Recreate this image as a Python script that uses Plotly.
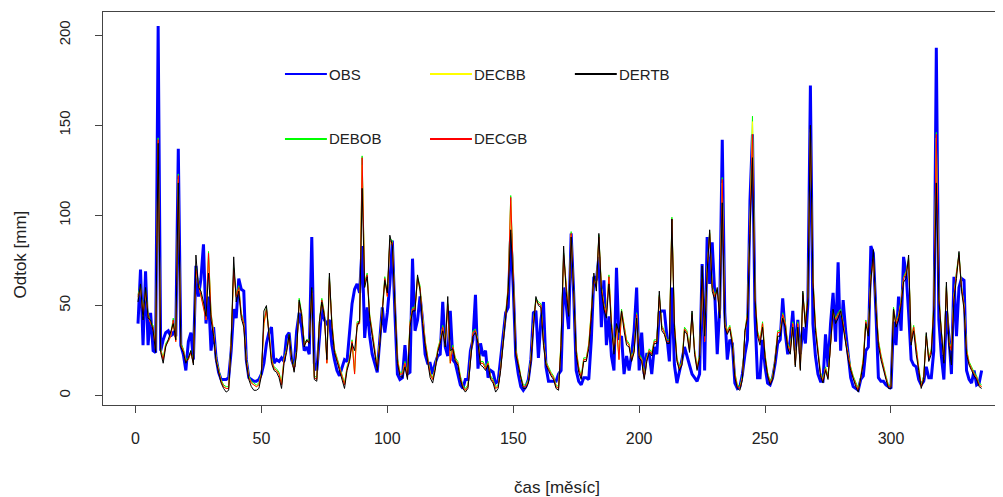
import plotly.graph_objects as go

months = list(range(1, 337))

OBS = [40,70,28,69,28,46,25,24,205,25,31,35,
36,33,35,33,137,28,23,14,30,35,20,72,
55,65,84,40,55,25,38,21,13,9,9,9,
10,25,48,43,65,59,58,20,10,9,8,8,
9,12,18,29,35,38,18,20,19,21,19,33,
35,20,16,36,46,38,25,27,23,88,18,14,
31,49,42,40,42,28,20,14,11,15,20,19,
33,51,59,62,57,83,32,49,33,23,18,13,
31,49,35,46,62,86,46,12,9,10,28,12,
13,76,36,42,55,42,23,18,18,12,18,22,
23,52,27,22,47,20,18,12,6,4,9,9,
25,31,56,15,29,22,25,10,14,13,7,8,
20,33,46,49,90,60,22,12,5,3,5,9,
20,46,47,21,42,52,16,8,8,8,8,12,
14,60,51,37,90,57,14,8,6,10,10,9,
31,66,64,77,38,64,28,44,22,14,71,31,
33,12,22,14,23,36,60,14,35,12,23,23,
12,27,23,46,47,47,33,19,60,17,7,13,
20,27,22,17,12,10,8,12,73,14,88,62,
85,57,23,49,142,46,20,31,29,7,4,5,
12,23,31,108,145,44,10,10,31,16,7,6,
10,18,29,31,54,35,23,31,47,25,42,23,
38,29,51,172,40,22,12,8,8,34,16,40,
57,30,74,25,53,36,23,10,5,4,3,9,
11,25,27,83,79,47,10,8,8,6,5,4,
41,28,55,36,77,68,46,20,17,16,9,6,
8,16,10,10,25,193,42,22,9,47,33,12,
66,33,60,65,64,14,9,7,14,6,7,14]

DEBOB = [56,61,46,59,46,41,39,26,143,26,21,29,
31,34,43,31,123,29,26,20,21,25,19,71,
63,56,51,43,80,46,36,21,15,9,6,5,
5,31,71,56,61,46,41,21,11,8,7,6,
7,13,41,49,36,21,16,15,13,7,21,26,
34,21,15,26,54,46,29,31,31,59,11,10,
41,54,46,19,66,41,26,21,16,11,7,16,
21,31,13,41,41,133,63,68,45,36,26,16,
31,51,66,56,87,86,51,21,13,13,19,11,
41,49,49,66,61,43,31,21,13,10,16,26,
31,39,29,51,19,28,21,19,11,6,4,6,
21,36,37,31,19,19,16,19,11,9,5,6,
16,31,44,61,111,65,26,19,11,6,6,9,
21,41,54,52,51,31,19,16,13,11,6,5,
31,79,61,46,91,61,26,16,11,21,21,29,
46,66,61,89,61,51,46,67,41,26,39,21,
48,39,31,29,21,26,46,23,21,11,21,26,
24,31,31,56,39,36,31,31,99,41,21,16,
19,38,36,26,46,26,16,23,66,31,71,91,
61,56,59,46,121,41,36,39,31,13,6,5,
11,36,46,96,155,56,36,31,41,23,13,8,
11,21,36,36,46,41,29,26,41,18,41,16,
57,41,56,148,66,39,26,13,9,16,11,31,
47,43,46,48,41,31,23,16,11,7,4,11,
21,42,36,66,77,51,31,23,16,11,6,6,
49,41,45,53,66,69,76,31,39,26,16,6,
11,34,21,26,51,146,56,36,21,61,31,26,
56,69,79,61,51,26,19,16,13,11,7,6]

DECBB = [54,60,44,57,44,40,37,25,140,25,20,28,
30,33,41,30,120,28,25,19,20,24,18,69,
61,55,50,42,77,44,35,20,14,8,5,4,
4,30,69,55,59,45,40,20,10,7,6,5,
6,12,39,47,35,20,15,14,12,6,20,25,
33,20,14,25,51,45,28,30,30,57,10,9,
39,52,45,18,64,40,25,20,15,10,6,15,
20,30,12,40,40,128,61,66,44,35,25,15,
30,50,64,55,85,84,50,20,12,12,18,10,
40,48,48,64,59,42,30,20,12,9,15,25,
30,38,28,50,18,27,20,18,10,5,3,5,
20,35,36,30,18,18,15,18,10,8,4,5,
15,30,43,59,108,63,25,18,10,5,5,8,
20,40,52,51,50,30,18,15,12,10,5,4,
30,77,60,45,89,60,25,15,10,20,20,28,
45,65,60,87,60,50,45,65,40,25,38,20,
47,38,30,28,20,25,45,22,20,10,20,25,
23,30,30,55,38,35,30,30,97,40,20,15,
18,37,35,25,44,25,15,22,65,30,70,89,
60,55,58,45,118,40,35,38,30,12,5,4,
10,35,45,94,152,55,35,30,40,22,12,7,
10,20,35,35,45,40,28,25,40,17,40,15,
56,40,55,146,65,38,25,12,8,15,10,30,
46,42,45,46,40,30,22,15,10,6,3,10,
20,41,35,65,75,50,30,22,15,10,5,5,
48,40,44,52,65,68,75,30,38,25,15,5,
10,33,20,25,50,143,55,35,20,60,30,25,
55,67,77,60,50,25,18,15,12,10,6,5]

DECGB = [55,60,45,58,45,40,38,25,142,25,20,28,
30,33,42,30,122,28,25,19,20,24,18,70,
62,55,50,42,79,45,35,20,14,8,5,4,
4,30,70,55,60,45,40,20,10,7,6,5,
6,12,40,48,35,20,15,14,12,6,20,25,
33,20,14,25,52,45,28,30,30,58,10,9,
40,53,45,18,65,40,25,20,15,10,6,15,
20,30,12,40,40,132,62,67,44,35,25,15,
30,50,65,55,86,85,50,20,12,12,18,10,
40,48,48,65,60,42,30,20,12,9,15,25,
30,38,28,50,18,27,20,18,10,5,3,5,
20,35,36,30,18,18,15,18,10,8,4,5,
15,30,43,60,110,64,25,18,10,5,5,8,
20,40,53,51,50,30,18,15,12,10,5,4,
30,78,60,45,90,60,25,15,10,20,20,28,
45,65,60,88,60,50,45,66,40,25,38,20,
47,38,30,28,20,25,45,22,20,10,20,25,
23,30,30,55,38,35,30,30,98,40,20,15,
18,37,35,25,45,25,15,22,65,30,70,90,
60,55,58,45,120,40,35,38,30,12,5,4,
10,35,45,95,145,55,35,30,40,22,12,7,
10,20,35,35,45,40,28,25,40,17,40,15,
56,40,55,148,65,38,25,12,8,15,10,30,
46,42,45,47,40,30,22,15,10,6,3,10,
20,41,35,65,76,50,30,22,15,10,5,5,
48,40,44,52,65,68,75,30,38,25,15,5,
10,33,20,25,50,145,55,35,20,60,30,25,
55,68,78,60,50,25,18,15,12,10,6,5]

DERTB = [52,62,42,60,43,42,36,24,140,24,18,27,
31,35,40,31,118,27,24,18,21,25,17,78,
60,58,52,44,68,42,33,19,12,7,4,2,
3,28,77,52,58,43,38,18,9,5,3,3,
4,11,47,50,33,18,14,13,10,4,18,24,
34,21,13,24,53,44,27,31,29,60,9,8,
41,52,44,20,68,38,24,19,14,9,4,14,
19,29,25,38,42,115,60,66,43,33,24,14,
28,48,64,57,89,83,48,18,11,10,16,9,
38,47,47,67,58,40,28,18,10,7,14,24,
29,36,27,55,25,26,19,17,9,4,2,4,
18,33,35,29,17,16,14,17,9,7,2,4,
14,29,42,58,92,62,23,16,9,4,4,7,
18,38,55,50,49,28,17,14,11,9,4,3,
28,83,58,44,88,58,23,13,9,19,19,26,
43,68,58,90,58,48,43,62,38,23,40,35,
47,36,28,27,19,24,43,21,19,9,19,24,
22,29,29,58,36,34,29,29,98,38,19,14,
17,36,34,24,47,23,14,21,72,33,68,92,
58,53,60,43,107,38,34,37,28,10,4,3,
9,36,43,90,132,53,33,28,38,21,11,6,
9,19,33,33,43,38,26,23,38,16,38,14,
58,38,53,150,63,36,23,11,7,14,9,28,
48,40,43,47,38,31,20,14,9,5,2,9,
18,40,33,63,81,48,28,20,14,9,4,4,
48,38,42,50,63,65,78,28,36,23,14,4,
9,35,19,23,48,118,53,33,18,63,28,17,
53,65,80,58,48,23,17,14,11,9,5,4]

series = [
    ("OBS", OBS, "#0000FF", 3),
    ("DEBOB", DEBOB, "#00FF00", 1),
    ("DECBB", DECBB, "#FFFF00", 1),
    ("DECGB", DECGB, "#FF0000", 1),
    ("DERTB", DERTB, "#000000", 1),
]

x_ticks = [0, 50, 100, 150, 200, 250, 300]
y_ticks = [0, 50, 100, 150, 200]

fig = go.Figure()
for name, vals, col, w in series:
    fig.add_trace(go.Scatter(x=months, y=vals, mode="lines", name=name,
                             line=dict(color=col, width=w), showlegend=False,
                             hoverinfo="skip"))

FONT = "Liberation Sans, Arial, Helvetica, sans-serif"
axis_col = "#444444"
txt_col = "#222222"

# the page body adds an 8px offset, so the figure is sized to fit the window
fig.update_layout(
    width=995, height=489,
    margin=dict(l=95, r=8, t=4, b=92),
    paper_bgcolor="white", plot_bgcolor="white",
    font=dict(family=FONT, size=15, color=txt_col),
    xaxis=dict(range=[-12.9, 341.3], tickvals=x_ticks, ticktext=[str(v) for v in x_ticks],
               showline=True, mirror=True, linecolor=axis_col, linewidth=1,
               ticks="outside", ticklen=7, tickcolor=axis_col, tickwidth=1,
               showgrid=False, zeroline=False, ticklabelstandoff=12,
               tickfont=dict(size=16, family=FONT, color=txt_col)),
    yaxis=dict(range=[-5.16, 212.8], tickvals=y_ticks, ticktext=[str(v) for v in y_ticks],
               showline=True, mirror=True, linecolor=axis_col, linewidth=1,
               ticks="outside", ticklen=7, tickcolor=axis_col, tickwidth=1,
               showgrid=False, zeroline=False, tickangle=-90, ticklabelstandoff=19,
               tickfont=dict(size=15, family=FONT, color=txt_col)),
    hovermode=False,
)

# axis titles
fig.add_annotation(text="čas [měsíc]", xref="paper", yref="paper", x=0.509, y=-0.2087,
                   yanchor="middle", xanchor="center", showarrow=False,
                   font=dict(size=17, family=FONT, color=txt_col))
fig.add_annotation(text="Odtok [mm]", xref="paper", yref="paper", x=-0.093, y=0.383,
                   textangle=-90, xanchor="center", yanchor="middle", showarrow=False,
                   font=dict(size=17, family=FONT, color=txt_col))

# legend drawn inside the plot (R style, no box)
legend_items = [("OBS", "#0000FF", 0.204, 0.842), ("DEBOB", "#00FF00", 0.204, 0.677),
                ("DECBB", "#FFFF00", 0.3666, 0.842), ("DECGB", "#FF0000", 0.3666, 0.677),
                ("DERTB", "#000000", 0.529, 0.842)]
seg = 0.047
for name, col, lx, ly in legend_items:
    fig.add_shape(type="line", xref="paper", yref="paper", x0=lx, x1=lx + seg, y0=ly, y1=ly,
                  line=dict(color=col, width=2))
    fig.add_annotation(text=name, xref="paper", yref="paper", x=lx + seg, y=ly,
                       xanchor="left", yanchor="middle", showarrow=False,
                       font=dict(size=15, family=FONT, color=txt_col))

fig.write_html("out.html")
